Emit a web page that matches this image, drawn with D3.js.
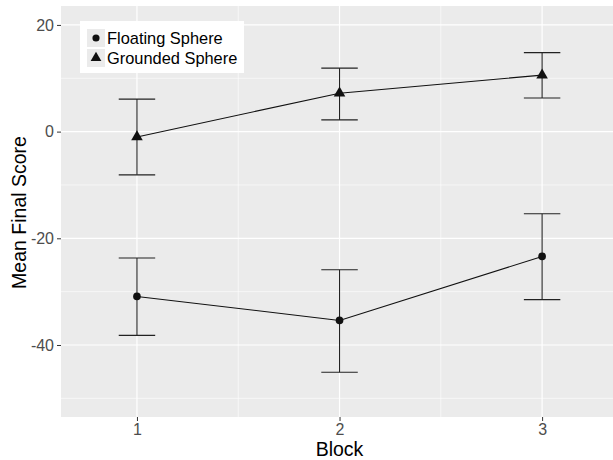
<!DOCTYPE html>
<html>
<head>
<meta charset="utf-8">
<script src="https://cdn.jsdelivr.net/npm/d3@7"></script>
<style>
	html, body { margin: 0; padding: 0; background: #fff; }
	svg { display: block; font-family: "Liberation Sans", Arial, sans-serif; }
	.tick text { fill: #4d4d4d; font-size: 16px; }
	.tick line { stroke: #333; }
</style>
</head>
<body>
<svg id="chart" width="613" height="460"></svg>
<script>
const blocks = [1, 2, 3];
const seriesNames = ['Floating Sphere', 'Grounded Sphere'];
const floatingMean = [-30.9, -35.4, -23.4];
const floatingLow = [-38.2, -45.1, -31.5];
const floatingHigh = [-23.7, -25.9, -15.4];
const groundedMean = [-1.0, 7.2, 10.6];
const groundedLow = [-8.1, 2.2, 6.3];
const groundedHigh = [6.1, 11.9, 14.8];
const yTicks = [-40, -20, 0, 20];
const yMinor = [-50, -30, -10, 10];
const xMinor = [1.5, 2.5];

const svg = d3.select('#chart');
const panel = { left: 61, right: 613, top: 6, bottom: 417 };

const x = d3.scaleLinear().domain([0.625, 3.35]).range([panel.left, panel.right]);
const y = d3.scaleLinear().domain([-53.5, 23.55]).range([panel.bottom, panel.top]);

svg.append('rect')
	.attr('x', panel.left).attr('y', panel.top)
	.attr('width', panel.right - panel.left).attr('height', panel.bottom - panel.top)
	.attr('fill', '#ebebeb');

const grid = svg.append('g');
grid.selectAll('.ym').data(yMinor).join('line')
	.attr('x1', panel.left).attr('x2', panel.right)
	.attr('y1', d => y(d)).attr('y2', d => y(d))
	.attr('stroke', '#fff').attr('stroke-width', 0.6);
grid.selectAll('.xm').data(xMinor).join('line')
	.attr('y1', panel.top).attr('y2', panel.bottom)
	.attr('x1', d => x(d)).attr('x2', d => x(d))
	.attr('stroke', '#fff').attr('stroke-width', 0.6);
grid.selectAll('.yM').data(yTicks).join('line')
	.attr('x1', panel.left).attr('x2', panel.right)
	.attr('y1', d => y(d)).attr('y2', d => y(d))
	.attr('stroke', '#fff').attr('stroke-width', 1.2);
grid.selectAll('.xM').data(blocks).join('line')
	.attr('y1', panel.top).attr('y2', panel.bottom)
	.attr('x1', d => x(d)).attr('x2', d => x(d))
	.attr('stroke', '#fff').attr('stroke-width', 1.2);

// axes (plain hyphen for negatives, like the original)
svg.append('g')
	.attr('transform', `translate(${panel.left},0)`)
	.call(d3.axisLeft(y).tickValues(yTicks).tickFormat(d => String(d)).tickSize(4).tickPadding(3))
	.call(g => g.select('.domain').remove());
svg.append('g')
	.attr('transform', `translate(0,${panel.bottom})`)
	.call(d3.axisBottom(x).tickValues(blocks).tickFormat(d => String(d)).tickSize(4).tickPadding(3))
	.call(g => g.select('.domain').remove());

svg.append('text')
	.attr('x', x(2)).attr('y', 456)
	.attr('text-anchor', 'middle')
	.attr('font-size', 19.5).attr('fill', '#000')
	.text('Block');
svg.append('text')
	.attr('transform', `translate(26,212.5) rotate(-90)`)
	.attr('text-anchor', 'middle')
	.attr('font-size', 19.5).attr('fill', '#000')
	.text('Mean Final Score');

const series = [
	{ name: seriesNames[0], mean: floatingMean, low: floatingLow, high: floatingHigh, shape: d3.symbolCircle },
	{ name: seriesNames[1], mean: groundedMean, low: groundedLow, high: groundedHigh, shape: d3.symbolTriangle }
];

const capHalf = 0.09;
const line = d3.line().x(d => x(d.b)).y(d => y(d.v));

series.forEach(s => {
	const pts = blocks.map((b, i) => ({ b, v: s.mean[i], lo: s.low[i], hi: s.high[i] }));
	const g = svg.append('g');
	const eb = g.selectAll('.eb').data(pts).join('g').attr('stroke', '#222').attr('stroke-width', 1.1);
	eb.append('line').attr('x1', d => x(d.b)).attr('x2', d => x(d.b)).attr('y1', d => y(d.lo)).attr('y2', d => y(d.hi));
	eb.append('line').attr('x1', d => x(d.b - capHalf)).attr('x2', d => x(d.b + capHalf)).attr('y1', d => y(d.lo)).attr('y2', d => y(d.lo));
	eb.append('line').attr('x1', d => x(d.b - capHalf)).attr('x2', d => x(d.b + capHalf)).attr('y1', d => y(d.hi)).attr('y2', d => y(d.hi));
	g.append('path').datum(pts).attr('d', line).attr('fill', 'none').attr('stroke', '#111').attr('stroke-width', 1.1);
	g.selectAll('.pt').data(pts).join('path')
		.attr('transform', d => `translate(${x(d.b)},${y(d.v)})`)
		.attr('d', d3.symbol().type(s.shape).size(s.shape === d3.symbolCircle ? 46 : 58))
		.attr('fill', '#111');
});

// legend
const legend = svg.append('g').attr('transform', 'translate(80,21)');
legend.append('rect').attr('width', 164).attr('height', 52).attr('fill', '#fff');
series.forEach((s, i) => {
	const row = legend.append('g').attr('transform', `translate(7,${8 + i * 20})`);
	row.append('rect').attr('width', 18).attr('height', 18).attr('fill', '#ebebeb');
	row.append('path')
		.attr('transform', 'translate(9,9)')
		.attr('d', d3.symbol().type(s.shape).size(s.shape === d3.symbolCircle ? 40 : 50))
		.attr('fill', '#111');
	row.append('text')
		.attr('x', 20).attr('y', 9).attr('dy', '0.36em')
		.attr('font-size', 16.4).attr('fill', '#000')
		.text(s.name);
});
</script>
</body>
</html>
